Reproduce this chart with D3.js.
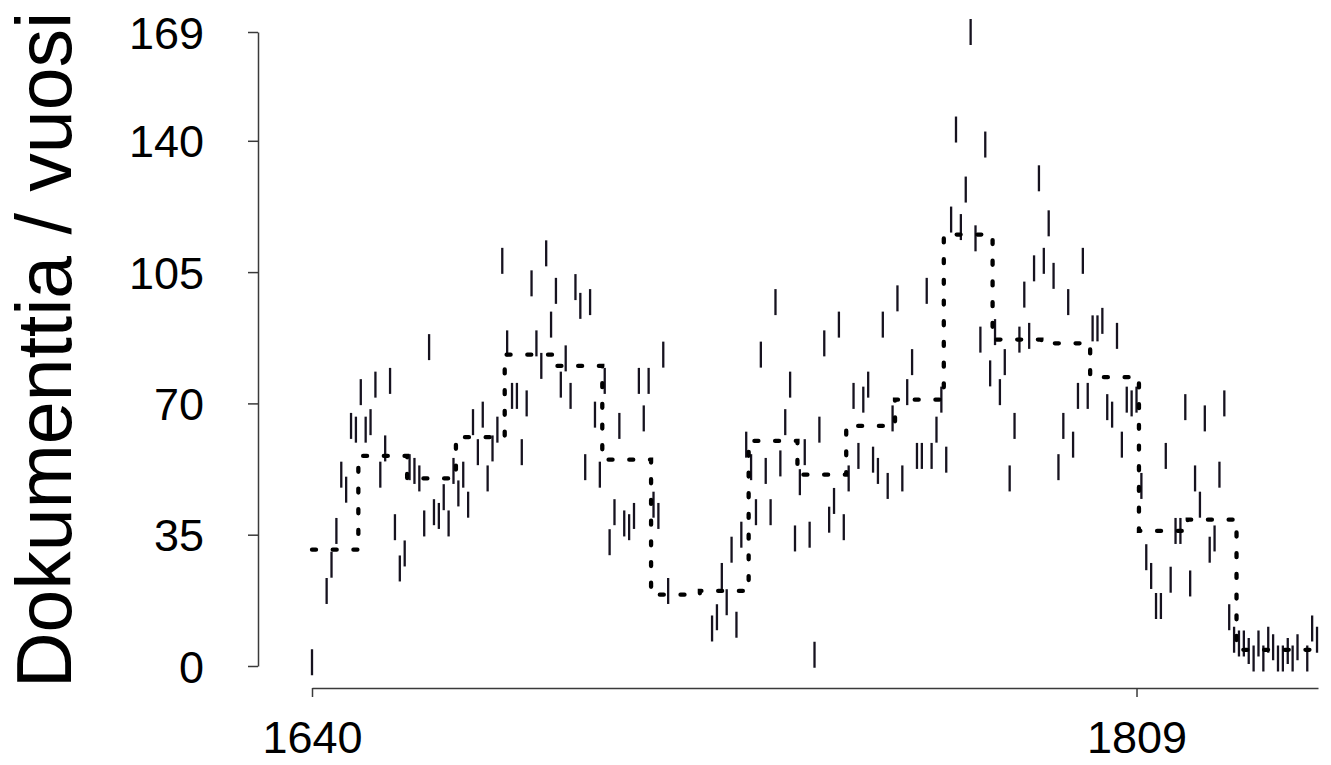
<!DOCTYPE html>
<html>
<head>
<meta charset="utf-8">
<script src="https://cdn.jsdelivr.net/npm/d3@7"></script>
<style>
  html, body { margin: 0; padding: 0; background: #fff; }
  svg { display: block; }
  text { font-family: "Liberation Sans", Arial, sans-serif; fill: #000; }
</style>
</head>
<body>
<svg id="chart" width="1331" height="765"></svg>
<script>
// ---- data ----
const years = [
  1640, 1643, 1644, 1645, 1646, 1647, 1648, 1649,
  1650, 1651, 1652, 1653, 1654, 1655, 1656, 1657, 1658, 1659,
  1660, 1661, 1662, 1663, 1664, 1665, 1666, 1667, 1668, 1669,
  1670, 1671, 1672, 1673, 1674, 1675, 1676, 1677, 1678, 1679,
  1680, 1681, 1682, 1683, 1684, 1685, 1686, 1687, 1688, 1689,
  1690, 1691, 1692, 1693, 1694, 1695, 1696, 1697, 1698, 1699,
  1700, 1701, 1702, 1703, 1704, 1705, 1706, 1707, 1708, 1709,
  1710, 1711, 1712, 1713,
  1722, 1723, 1724, 1725, 1726, 1727, 1728, 1729,
  1730, 1731, 1732, 1733, 1734, 1735, 1736, 1737, 1738, 1739,
  1740, 1741, 1742, 1743, 1744, 1745, 1746, 1747, 1748, 1749,
  1750, 1751, 1752, 1753, 1754, 1755, 1756, 1757, 1758, 1759,
  1760, 1761, 1762, 1763, 1764, 1765, 1766, 1767, 1768, 1769,
  1770, 1771, 1772, 1773, 1774, 1775, 1776, 1777, 1778, 1779,
  1780, 1781, 1782, 1783, 1784, 1785, 1786, 1787, 1788, 1789,
  1790, 1791, 1792, 1793, 1794, 1795, 1796, 1797, 1798, 1799,
  1800, 1801, 1802, 1803, 1804, 1805, 1806, 1807, 1808, 1809,
  1810, 1811, 1812, 1813, 1814, 1815, 1816, 1817, 1818, 1819,
  1820, 1821, 1822, 1823, 1824, 1825, 1826, 1827, 1828, 1829,
  1830, 1831, 1832, 1833, 1834, 1835, 1836, 1837, 1838, 1839,
  1840, 1841, 1842, 1844, 1845, 1846
];
const documents = [
  1, 20, 27, 36, 51, 47, 64, 63,
  73, 63, 65, 75, 51, 58, 76, 37, 26, 30,
  53, 52, 50, 38, 85, 41, 40, 45, 38, 52,
  46, 51, 43, 65, 57, 67, 50, 58, 63, 108,
  86, 72, 72, 57, 70, 102, 86, 80, 110, 91,
  100, 75, 82, 72, 101, 96, 53, 97, 67, 51,
  76, 33, 41, 64, 38, 37, 40, 76, 66, 76,
  43, 40, 83, 20,
  10, 13, 24, 17, 31, 11, 35, 59,
  53, 41, 83, 52, 41, 97, 54, 65, 75, 34,
  49, 57, 35, 3, 63, 86, 39, 44, 91, 37,
  50, 72, 56, 71, 75, 55, 52, 91, 48, 66,
  98, 50, 73, 81, 56, 56, 100, 56, 63, 71,
  55, 119, 143, 117, 127, 169, 114, 87, 139, 78,
  89, 73, 81, 50, 64, 87, 99, 88, 106, 130,
  108, 118, 104, 53, 64, 97, 59, 72, 108, 72,
  90, 90, 92, 69, 67, 88, 59, 71, 70, 71,
  48, 29, 24, 16, 16, 56, 23, 36, 36, 69,
  22, 50, 43, 66, 31, 34, 51, 70, 13, 7,
  6, 6, 4, 2, 6, 2, 7, 5, 2, 2,
  4, 2, 5, 2, 10, 7
];
const decades = [1640, 1650, 1660, 1670, 1680, 1690, 1700, 1710, 1720, 1730,
                 1740, 1750, 1760, 1770, 1780, 1790, 1800, 1810, 1820, 1830, 1840];
const decadeMeans = [31, 56, 50, 61, 83, 80, 55, 19, 20, 60,
                     51, 64, 71, 115, 87, 86, 77, 36, 39, 4.3, 4.3];
const xTickValues = [1640, 1809];
const yTickValues = [0, 35, 70, 105, 140, 169];
const yAxisTitle = "Dokumenttia / vuosi";
const xDomain = [1640, 1846.2];
const yDomain = [0, 169];

// ---- layout ----
const svg = d3.select("#chart");
const x = d3.scaleLinear().domain(xDomain).range([312, 1318]);
const y = d3.scaleLinear().domain(yDomain).range([666, 32]);
const axisColor = "#3a3a3a";
const labelFont = 45;

// y axis
const yAxisG = svg.append("g").attr("transform", "translate(258,0)")
  .call(d3.axisLeft(y).tickValues(yTickValues).tickSize(10).tickSizeOuter(0).tickPadding(44)
        .tickFormat(d3.format("d")));
yAxisG.select(".domain").attr("stroke", axisColor).attr("stroke-width", 1.5);
yAxisG.selectAll(".tick line").attr("stroke", axisColor).attr("stroke-width", 1.5);
yAxisG.selectAll(".tick text")
  .attr("font-size", labelFont)
  .attr("font-family", "'Liberation Sans', Arial, sans-serif")
  .attr("fill", "#000")
  .attr("dy", "0.36em");

// x axis
const xAxisG = svg.append("g").attr("transform", "translate(0,688)")
  .call(d3.axisBottom(x).tickValues(xTickValues).tickSize(9).tickSizeOuter(0).tickPadding(24)
        .tickFormat(d3.format("d")));
xAxisG.select(".domain").attr("stroke", axisColor).attr("stroke-width", 1.5);
xAxisG.selectAll(".tick line").attr("stroke", axisColor).attr("stroke-width", 1.5);
xAxisG.selectAll(".tick text")
  .attr("font-size", labelFont)
  .attr("font-family", "'Liberation Sans', Arial, sans-serif")
  .attr("fill", "#000")
  .attr("dy", "0.71em");

// y axis title
svg.append("text")
  .attr("transform", "translate(71,350) rotate(-90)")
  .attr("text-anchor", "middle")
  .attr("font-size", 77)
  .text(yAxisTitle);

// yearly markers ("|")
const pts = years.map((yr, i) => ({ year: yr, value: documents[i] }));
svg.append("g").selectAll("line").data(pts).join("line")
  .attr("x1", d => x(d.year)).attr("x2", d => x(d.year))
  .attr("y1", d => y(d.value) - 13).attr("y2", d => y(d.value) + 13)
  .attr("stroke", "#16121f").attr("stroke-width", 2.3);

// decade mean step line (dotted)
const stepPts = decades.map((d, i) => ({ x: i === 0 ? d : d - 0.5, v: decadeMeans[i] }));
stepPts.push({ x: xDomain[1], v: decadeMeans[decadeMeans.length - 1] });
const stepLine = d3.line().x(d => x(d.x)).y(d => y(d.v)).curve(d3.curveStepAfter);
svg.append("path")
  .datum(stepPts)
  .attr("d", stepLine)
  .attr("fill", "none")
  .attr("stroke", "#000")
  .attr("stroke-width", 4.3)
  .attr("stroke-linecap", "round")
  .attr("stroke-dasharray", "4,16.7");
</script>
</body>
</html>
